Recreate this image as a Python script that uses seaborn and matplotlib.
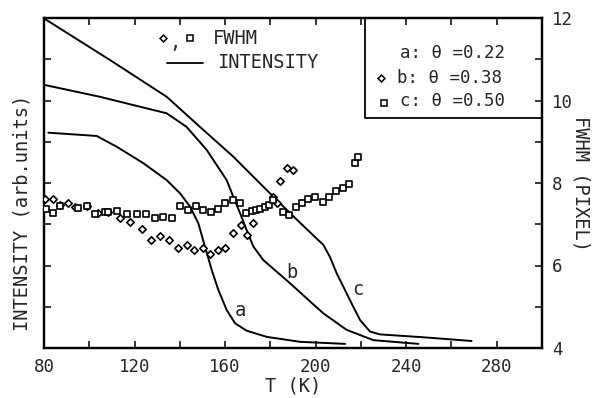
import numpy as np
import pandas as pd
import matplotlib
matplotlib.use("Agg")
import matplotlib.pyplot as plt
import seaborn as sns

# ---- data ----
# Intensity curves (arb. units, 0..8 scale)
T_a = [81.9, 103.3, 112.1, 123.9, 134.2, 140.1, 144.5, 148.2, 151.1, 154.1, 157.0, 160.7,
       164.4, 169.5, 178.4, 193.1, 213.0]
I_a = [5.22, 5.14, 4.88, 4.48, 4.07, 3.75, 3.43, 3.02, 2.46, 1.89, 1.41, 0.92,
       0.60, 0.42, 0.27, 0.15, 0.10]
T_b = [80, 104.7, 119.4, 134.2, 143.0, 151.9, 160.7, 163.6, 166.6, 169.5, 172.5, 176.9,
       182.8, 188.7, 196.1, 203.4, 213.7, 225.5, 245.4]
I_b = [6.38, 6.09, 5.89, 5.69, 5.36, 4.80, 4.07, 3.67, 3.27, 2.86, 2.46, 2.13,
       1.85, 1.57, 1.20, 0.84, 0.44, 0.19, 0.10]
T_c = [80, 109.2, 134.2, 148.9, 163.6, 181.3, 188.7, 196.1, 203.4, 206.3, 209.3, 212.2,
       215.9, 219.6, 224.0, 228.4, 247.6, 268.9]
I_c = [7.99, 6.98, 6.09, 5.36, 4.64, 3.67, 3.27, 2.88, 2.50, 2.21, 1.81, 1.49,
       1.08, 0.68, 0.40, 0.33, 0.26, 0.17]

# FWHM (pixel) data: b = diamonds, c = squares
T_fb = [80.4, 84.0, 87.1, 90.6, 93.7, 99.0, 103.9, 108.3, 113.6, 118.0, 123.3, 127.3, 131.2, 135.2,
        139.2, 143.2, 146.3, 150.2, 153.3, 156.9, 160.0, 163.5, 167.0, 169.7, 172.3, 181.1, 182.9,
        184.2, 187.3, 190.0]
F_fb = [7.61, 7.61, 7.47, 7.52, 7.42, 7.44, 7.27, 7.30, 7.15, 7.05, 6.88, 6.62, 6.72, 6.62,
        6.42, 6.50, 6.38, 6.42, 6.28, 6.38, 6.42, 6.79, 6.98, 6.74, 7.03, 7.66, 7.52,
        8.05, 8.36, 8.32]
T_fc = [80.9, 84.0, 87.1, 95.0, 99.0, 102.5, 106.9, 108.3, 112.2, 116.7, 121.1, 125.1, 129.0, 132.6,
        136.5, 140.1, 143.6, 147.1, 150.2, 153.8, 156.9, 160.0, 163.5, 166.6, 169.2, 171.9, 173.6,
        175.4, 177.6, 179.4, 181.1, 185.6, 188.2, 191.3, 194.0, 196.6, 199.7, 203.2, 205.9, 209.0,
        212.1, 214.7, 217.4, 218.7]
F_fc = [7.37, 7.27, 7.44, 7.39, 7.44, 7.25, 7.30, 7.30, 7.32, 7.25, 7.25, 7.25, 7.15, 7.18,
        7.15, 7.44, 7.35, 7.44, 7.35, 7.30, 7.37, 7.52, 7.59, 7.52, 7.27, 7.32, 7.35,
        7.37, 7.42, 7.47, 7.59, 7.30, 7.22, 7.42, 7.52, 7.61, 7.66, 7.54, 7.66, 7.81,
        7.88, 7.98, 8.48, 8.63]

x_ticks = [80, 120, 160, 200, 240, 280]
y2_ticks = [4, 6, 8, 10, 12]
legend_labels = ["a: \u03b8 =0.22", "b: \u03b8 =0.38", "c: \u03b8 =0.50"]

sns.set_style("ticks")
plt.rcParams['font.family'] = ['DejaVu Sans Mono', 'DejaVu Sans']
plt.rcParams['font.size'] = 12.5
FS = 13.5

df_int = pd.concat([
    pd.DataFrame({"T": T_a, "I": I_a, "curve": "a"}),
    pd.DataFrame({"T": T_b, "I": I_b, "curve": "b"}),
    pd.DataFrame({"T": T_c, "I": I_c, "curve": "c"}),
])
df_fb = pd.DataFrame({"T": T_fb, "F": F_fb})
df_fc = pd.DataFrame({"T": T_fc, "F": F_fc})

fig = plt.figure(figsize=(5.95, 3.98), dpi=100)
ax = fig.add_axes([44/595, 50/398, 498/595, 330/398])

sns.lineplot(data=df_int, x="T", y="I", units="curve", estimator=None, color="black",
             lw=1.4, ax=ax, legend=False)
ax.set_xlim(80, 300)
ax.set_ylim(0, 8)
ax.set_yticks(np.arange(1, 8))
ax.set_yticklabels([])
ax.set_xticks(x_ticks)
ax.set_xticks(np.arange(80, 301, 20), minor=True)
ax.tick_params(axis="x", which="both", direction="in", top=True, length=5, width=1.3, pad=7,
               labelsize=12.5)
ax.tick_params(axis="y", which="both", direction="in", left=True, right=False, length=5, width=1.3)
ax.set_xlabel("T (K)", fontsize=FS)
ax.xaxis.set_label_coords(0.5, -0.085)
ax.set_ylabel("INTENSITY (arb.units)", fontsize=FS)
ax.yaxis.set_label_coords(-0.026, 0.41)
for s in ax.spines.values():
    s.set_linewidth(1.6)
    s.set_color("black")

ax2 = ax.twinx()
sns.scatterplot(data=df_fb, x="T", y="F", marker="D", s=14, facecolor="white",
                edgecolor="black", linewidth=1.2, ax=ax2, zorder=3)
sns.scatterplot(data=df_fc, x="T", y="F", marker="s", s=20, facecolor="white",
                edgecolor="black", linewidth=1.2, ax=ax2, zorder=3)
ax2.set_ylim(4, 12)
ax2.set_yticks(y2_ticks)
ax2.set_yticks([5, 7, 9, 11], minor=True)
ax2.tick_params(axis="y", which="both", direction="in", length=5, width=1.3, pad=7,
                labelsize=12.5)
ax2.set_ylabel("FWHM (PIXEL)", rotation=270, va="center", fontsize=FS)
ax2.yaxis.set_label_coords(1.078, 0.5)
ax2.set_xlabel("")
for s in ax2.spines.values():
    s.set_linewidth(1.6)
    s.set_color("black")

# curve labels
ax.text(166.6, 0.9, "a", ha="center", va="center", fontsize=FS)
ax.text(189.5, 1.84, "b", ha="center", va="center", fontsize=FS)
ax.text(218.7, 1.41, "c", ha="center", va="center", fontsize=FS)

# upper-left key
ax.plot([0.239], [0.939], transform=ax.transAxes, marker="D", ms=3.5, mfc="white", mec="black", mew=1.1)
ax.text(0.262, 0.925, ",", transform=ax.transAxes, ha="center", va="center", fontsize=FS)
ax.plot([0.293], [0.939], transform=ax.transAxes, marker="s", ms=3.8, mfc="white", mec="black", mew=1.1)
ax.text(0.339, 0.939, "FWHM", transform=ax.transAxes, ha="left", va="center", fontsize=FS)
ax.plot([0.247, 0.319], [0.864, 0.864], transform=ax.transAxes, color="black", lw=1.3)
ax.text(0.347, 0.864, "INTENSITY", transform=ax.transAxes, ha="left", va="center", fontsize=FS)

# upper-right key box
ax.plot([0.645, 0.645, 1.0], [1.0, 0.697, 0.697], transform=ax.transAxes, color="black", lw=1.3,
        clip_on=False)
ax.text(0.715, 0.893, legend_labels[0], transform=ax.transAxes, ha="left", va="center", fontsize=12.5)
ax.text(0.708, 0.818, legend_labels[1], transform=ax.transAxes, ha="left", va="center", fontsize=12.5)
ax.text(0.715, 0.748, legend_labels[2], transform=ax.transAxes, ha="left", va="center", fontsize=12.5)
ax.plot([0.676], [0.818], transform=ax.transAxes, marker="D", ms=3.5, mfc="white", mec="black", mew=1.1)
ax.plot([0.683], [0.742], transform=ax.transAxes, marker="s", ms=3.8, mfc="white", mec="black", mew=1.1)

fig.savefig("out.png", dpi=100)
